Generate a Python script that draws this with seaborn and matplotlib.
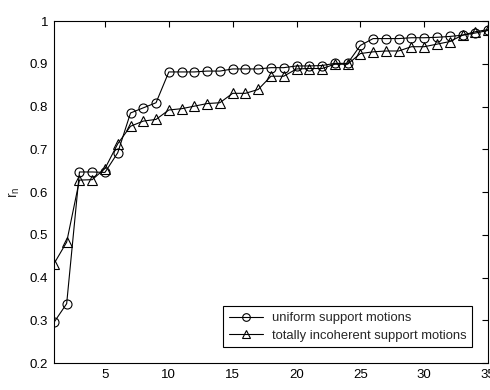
import numpy as np
import pandas as pd
import matplotlib
matplotlib.use('Agg')
import matplotlib.pyplot as plt
import seaborn as sns

n = list(range(1, 36))
uniform = [0.295, 0.339, 0.647, 0.647, 0.646, 0.692, 0.785, 0.797, 0.809, 0.881,
           0.881, 0.881, 0.883, 0.883, 0.888, 0.888, 0.888, 0.891, 0.891, 0.895,
           0.895, 0.896, 0.901, 0.901, 0.943, 0.959, 0.959, 0.959, 0.961, 0.961,
           0.962, 0.964, 0.967, 0.972, 0.978]
incoherent = [0.432, 0.483, 0.628, 0.629, 0.655, 0.713, 0.754, 0.766, 0.770, 0.792,
              0.795, 0.801, 0.807, 0.809, 0.831, 0.831, 0.840, 0.871, 0.871, 0.888,
              0.889, 0.889, 0.899, 0.899, 0.924, 0.928, 0.930, 0.930, 0.940, 0.940,
              0.946, 0.952, 0.967, 0.975, 0.980]
labels = ['uniform support motions', 'totally incoherent support motions']

sns.set_style('white')
plt.rcParams['font.family'] = ['Liberation Sans', 'DejaVu Sans']

fig = plt.figure(figsize=(4.9, 3.9), dpi=100)
ax = fig.add_axes([0.110, 0.069, 0.886, 0.877])

df = pd.DataFrame({'n': n, 'u': uniform, 'i': incoherent})
sns.lineplot(data=df, x='n', y='u', ax=ax, color='k', lw=0.8, marker='o',
             markersize=6.5, markerfacecolor='none', markeredgecolor='k',
             markeredgewidth=0.8, label=labels[0])
sns.lineplot(data=df, x='n', y='i', ax=ax, color='k', lw=0.8, marker='^',
             markersize=7, markerfacecolor='none', markeredgecolor='k',
             markeredgewidth=0.8, label=labels[1])

ax.set_xlim(1, 35)
ax.set_ylim(0.2, 1)
ax.set_xticks([5, 10, 15, 20, 25, 30, 35])
ax.set_yticks([0.2, 0.3, 0.4, 0.5, 0.6, 0.7, 0.8, 0.9, 1])
ax.set_yticklabels(['0.2', '0.3', '0.4', '0.5', '0.6', '0.7', '0.8', '0.9', '1'])
ax.tick_params(direction='in', length=4, width=0.8, labelsize=9.5, top=True, right=True,
               colors='k', pad=4)
for s in ax.spines.values():
    s.set_color('k')
    s.set_linewidth(0.8)

ax.set_xlabel('n', fontsize=9, labelpad=6)
ax.set_ylabel('r$_\\mathregular{n}$', fontsize=10, labelpad=6)

leg = ax.legend(loc='lower right', fontsize=9.4, frameon=True, fancybox=False,
                edgecolor='k', framealpha=1, handlelength=2.6, handletextpad=0.7,
                borderaxespad=1.2, labelspacing=0.4, borderpad=0.45)
leg.get_frame().set_linewidth(0.8)
for h in leg.legend_handles:
    h.set_markersize(5.5)

fig.savefig('out.png', dpi=100)
